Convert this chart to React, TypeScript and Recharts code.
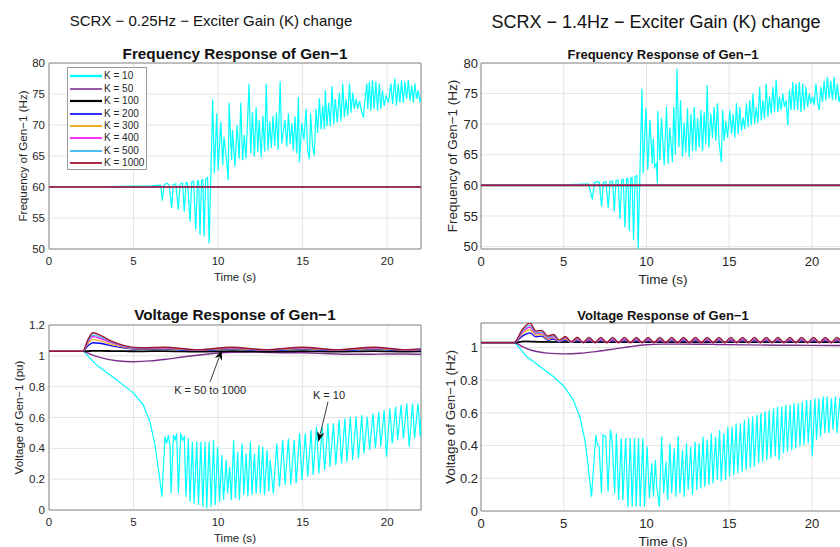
import { LineChart, Line, XAxis, YAxis, CartesianGrid, ReferenceArea, ReferenceLine } from 'recharts'
import type { ReactNode } from 'react'

type Pt = [number, number]
type Row = { t: number; v: number }
type Series = { name: string; color: string; width: number; smooth: boolean; data: Row[] }

const FONT = '"Liberation Sans", Arial, Helvetica, sans-serif'
const INK = '#262626'

const SERIES_NAMES = ['K = 10', 'K = 50', 'K = 100', 'K = 200', 'K = 300', 'K = 400', 'K = 500', 'K = 1000']
const SERIES_COLORS = ['#00ffff', '#7e2f8e', '#000000', '#0000ff', '#edb120', '#ff00ff', '#4dbeee', '#a2142f']

const TIME_TICKS = [0, 5, 10, 15, 20]
const FREQ_TICKS = [50, 55, 60, 65, 70, 75, 80]
const VOLT_TICKS_A = [0, 0.2, 0.4, 0.6, 0.8, 1, 1.2]
const VOLT_TICKS_B = [0, 0.2, 0.4, 0.6, 0.8, 1]

// frequency: every K >= 50 stays on 60 Hz
const FREQ_STEADY: Pt[] = [[0, 60], [22, 60]]

// 0.25 Hz case, K = 10 frequency
const F1_K10: Pt[] = [
  [0, 60], [2, 60], [4, 60.1], [6, 60.2], [6.6, 60.3], [6.7, 57.8], [6.8, 60.3], [6.95, 60.6], [7.1, 60.4],
  [7.26, 56.6], [7.35, 60.4], [7.5, 60.5], [7.65, 56.3], [7.75, 60.5], [7.9, 60.6], [8.0, 56.0], [8.1, 60.7],
  [8.2, 60.6], [8.34, 54.4], [8.44, 60.8], [8.55, 60.9], [8.68, 53.1], [8.78, 61.0], [8.85, 61.0], [8.93, 52.3],
  [9.02, 61.1], [9.1, 61.2], [9.17, 52.0], [9.27, 61.3], [9.38, 61.5], [9.47, 50.9], [9.57, 61.6], [9.68, 74.1],
  [9.78, 62.2], [9.92, 71.9], [10.0, 62.7], [10.16, 70.5], [10.27, 63.5], [10.35, 68.1], [10.5, 64.3], [10.6, 61.1],
  [10.65, 73.6], [10.8, 64.3], [10.85, 69.2], [11.0, 63.3], [11.12, 70.0], [11.25, 64.5], [11.34, 73.6], [11.45, 64.3],
  [11.55, 68.4], [11.65, 64.6], [11.83, 76.6], [11.93, 65.4], [12.03, 72.1], [12.15, 64.9], [12.25, 72.9], [12.35, 65.6],
  [12.43, 70.8], [12.55, 64.8], [12.65, 71.5], [12.75, 65.7], [12.85, 76.6], [12.95, 65.9], [13.05, 70.6], [13.15, 66.3],
  [13.25, 71.5], [13.35, 66.6], [13.45, 72.0], [13.55, 66.0], [13.67, 77.0], [13.76, 67.0], [13.96, 70.8], [14.06, 66.5],
  [14.16, 71.9], [14.26, 67.0], [14.36, 70.3], [14.45, 65.9], [14.55, 71.4], [14.65, 65.4], [14.75, 74.5], [14.81, 64.0],
  [14.95, 70.3], [15.08, 67.6], [15.2, 72.6], [15.3, 65.9], [15.4, 64.5], [15.47, 71.9], [15.59, 66.5], [15.69, 65.1],
  [15.79, 72.6], [15.89, 68.7], [15.99, 74.3], [16.09, 69.3], [16.19, 73.1], [16.29, 69.3], [16.34, 75.6], [16.44, 69.8],
  [16.54, 73.6], [16.64, 69.8], [16.74, 76.3], [16.84, 70.1], [16.93, 74.2], [17.05, 70.4], [17.17, 75.2], [17.27, 70.6],
  [17.37, 76.7], [17.47, 71.2], [17.57, 74.2], [17.67, 71.5], [17.77, 76.7], [17.86, 72.0], [17.96, 75.2], [18.06, 72.6],
  [18.16, 74.2], [18.26, 72.6], [18.36, 73.9], [18.5, 72.0], [18.6, 71.2], [18.7, 74.4], [18.8, 76.7], [18.85, 72.6],
  [18.95, 77.0], [19.03, 72.3], [19.13, 77.2], [19.23, 72.6], [19.33, 77.0], [19.43, 72.3], [19.53, 76.7], [19.62, 72.6],
  [19.72, 75.6], [19.82, 73.1], [19.94, 74.7], [20.08, 73.6], [20.22, 76.7], [20.32, 73.4], [20.45, 77.5], [20.55, 73.1],
  [20.65, 76.7], [20.75, 73.6], [20.85, 77.2], [20.95, 73.6], [21.05, 77.0], [21.15, 74.2], [21.25, 77.2], [21.35, 73.9],
  [21.45, 76.4], [21.55, 73.6], [21.64, 76.7], [21.74, 74.2], [21.84, 75.6], [21.94, 73.6], [22, 74.5],
]

// 1.4 Hz case, K = 10 frequency
const F2_K10: Pt[] = [
  [0, 60], [3, 60.05], [5, 60.1], [6.5, 60.25], [6.73, 57.7], [6.85, 60.4], [7.0, 60.6], [7.15, 60.5], [7.29, 56.5],
  [7.4, 60.5], [7.55, 60.6], [7.69, 56.3], [7.8, 60.6], [7.95, 60.7], [8.06, 55.8], [8.16, 60.8], [8.28, 60.8],
  [8.4, 54.5], [8.5, 60.9], [8.6, 61.0], [8.7, 53.1], [8.8, 61.1], [8.88, 61.1], [8.96, 52.6], [9.05, 61.2],
  [9.13, 61.3], [9.22, 51.1], [9.31, 61.4], [9.42, 61.6], [9.5, 49.6], [9.6, 61.7], [9.73, 75.8], [9.8, 62.0],
  [9.97, 72.6], [10.08, 62.5], [10.21, 70.7], [10.35, 63.5], [10.41, 67.7], [10.5, 63.0], [10.6, 63.5], [10.66, 60.3],
  [10.68, 72.2], [10.81, 64.1], [10.91, 71.0], [11.07, 63.3], [11.21, 72.8], [11.31, 63.5], [11.41, 69.5], [11.57, 63.8],
  [11.65, 72.8], [11.75, 65.0], [11.84, 79.1], [11.96, 66.2], [12.06, 73.9], [12.18, 64.7], [12.28, 70.3], [12.38, 65.3],
  [12.48, 72.6], [12.58, 64.6], [12.69, 71.7], [12.79, 65.6], [12.89, 72.8], [12.99, 65.6], [13.09, 71.0], [13.19, 66.2],
  [13.29, 72.3], [13.39, 65.6], [13.49, 72.0], [13.59, 66.7], [13.67, 76.4], [13.77, 66.2], [13.89, 71.7], [13.99, 67.8],
  [14.09, 72.8], [14.19, 67.3], [14.29, 73.4], [14.39, 67.0], [14.53, 63.8], [14.6, 72.3], [14.7, 67.3], [14.8, 70.5],
  [14.9, 67.8], [15.04, 72.3], [15.14, 68.4], [15.24, 71.7], [15.34, 67.8], [15.44, 73.4], [15.54, 68.4], [15.64, 72.8],
  [15.74, 68.9], [15.84, 71.1], [15.94, 69.2], [16.04, 73.4], [16.14, 69.5], [16.24, 73.9], [16.34, 69.8], [16.44, 75.0],
  [16.54, 70.1], [16.64, 72.8], [16.74, 70.3], [16.84, 76.1], [16.94, 70.6], [17.04, 73.9], [17.14, 70.9], [17.24, 76.6],
  [17.34, 71.2], [17.44, 74.5], [17.54, 71.7], [17.64, 76.1], [17.74, 72.0], [17.84, 77.3], [17.94, 72.0], [18.04, 74.5],
  [18.14, 72.3], [18.24, 75.0], [18.34, 72.8], [18.44, 73.9], [18.54, 69.8], [18.64, 75.6], [18.74, 72.3], [18.84, 76.9],
  [18.94, 72.3], [19.04, 76.6], [19.14, 72.3], [19.24, 76.9], [19.34, 72.0], [19.44, 76.6], [19.54, 72.3], [19.64, 76.1],
  [19.74, 72.8], [19.84, 75.0], [19.94, 73.4], [20.04, 74.5], [20.14, 73.1], [20.24, 76.6], [20.34, 73.6], [20.44, 72.3],
  [20.54, 76.1], [20.64, 73.6], [20.74, 77.1], [20.84, 73.9], [20.94, 77.7], [21.04, 74.2], [21.14, 77.1], [21.24, 73.9],
  [21.34, 77.7], [21.44, 73.9], [21.54, 76.6], [21.64, 73.6], [21.8, 76.0], [22, 74.0],
]

// 0.25 Hz case, voltage
const V1_K10: Pt[] = [
  [0, 1.03], [2.03, 1.034], [2.33, 0.995], [2.82, 0.94], [3.61, 0.876], [4.4, 0.81], [4.99, 0.76], [5.58, 0.68],
  [5.98, 0.57], [6.27, 0.42], [6.53, 0.218], [6.68, 0.086], [6.86, 0.475], [6.96, 0.432], [7.06, 0.486], [7.16, 0.41],
  [7.22, 0.108], [7.36, 0.486], [7.46, 0.454], [7.55, 0.497], [7.65, 0.108], [7.79, 0.497], [7.89, 0.454], [8.0, 0.475],
  [8.1, 0.086], [8.24, 0.464], [8.34, 0.054], [8.48, 0.443], [8.58, 0.043], [8.74, 0.443], [8.84, 0.032], [8.98, 0.443],
  [9.1, 0.022], [9.23, 0.443], [9.33, 0.011], [9.47, 0.443], [9.59, 0.022], [9.73, 0.454], [9.83, 0.032], [9.97, 0.41],
  [10.09, 0.054], [10.22, 0.357], [10.32, 0.065], [10.48, 0.324], [10.56, 0.108], [10.68, 0.281], [10.78, 0.065], [10.92, 0.454],
  [11.02, 0.076], [11.16, 0.378], [11.26, 0.065], [11.42, 0.432], [11.52, 0.097], [11.66, 0.367], [11.76, 0.086], [11.91, 0.443],
  [12.01, 0.097], [12.15, 0.367], [12.25, 0.108], [12.41, 0.421], [12.5, 0.108], [12.64, 0.41], [12.74, 0.097], [12.9, 0.389],
  [13.0, 0.119], [13.08, 0.324], [13.27, 0.108], [13.47, 0.432], [13.63, 0.151], [13.82, 0.454], [13.96, 0.162], [14.16, 0.464],
  [14.3, 0.162], [14.5, 0.454], [14.62, 0.173], [14.82, 0.497], [14.96, 0.194], [15.16, 0.497], [15.3, 0.216], [15.5, 0.518],
  [15.62, 0.227], [15.82, 0.54], [15.96, 0.238], [16.16, 0.54], [16.3, 0.259], [16.5, 0.562], [16.62, 0.281], [16.82, 0.562],
  [16.96, 0.292], [17.16, 0.584], [17.3, 0.302], [17.5, 0.594], [17.62, 0.313], [17.82, 0.605], [17.96, 0.324], [18.16, 0.605],
  [18.3, 0.335], [18.5, 0.616], [18.62, 0.367], [18.82, 0.605], [18.96, 0.389], [19.16, 0.627], [19.3, 0.4], [19.5, 0.637],
  [19.62, 0.41], [19.82, 0.648], [19.96, 0.346], [20.16, 0.659], [20.3, 0.432], [20.5, 0.67], [20.62, 0.454], [20.82, 0.681],
  [20.96, 0.464], [21.16, 0.691], [21.3, 0.41], [21.5, 0.691], [21.62, 0.464], [21.82, 0.691], [21.96, 0.475], [22, 0.6],
]
const V1_K50: Pt[] = [
  [0, 1.03], [2, 1.03], [2.5, 1.008], [3, 0.99], [4, 0.968], [5, 0.962], [6, 0.967], [7, 0.979], [8, 0.994],
  [9, 1.007], [10, 1.018], [11, 1.023], [12, 1.024], [13, 1.022], [14, 1.02], [15, 1.02], [16, 1.016], [17, 1.012],
  [18, 1.01], [19, 1.01], [20, 1.012], [21, 1.012], [22, 1.01],
]
const V1_T = [0, 2, 2.3, 2.6, 3.1, 3.7, 4.5, 5.4, 6.8, 8.8, 10.8, 12.8, 15, 17, 19.2, 21.1, 22]
const V1_K100 = [1.03, 1.03, 1.031, 1.032, 1.032, 1.031, 1.03, 1.029, 1.031, 1.028, 1.031, 1.028, 1.031, 1.028, 1.031, 1.028, 1.029]
const V1_K200 = [1.03, 1.03, 1.065, 1.085, 1.08, 1.065, 1.05, 1.042, 1.043, 1.035, 1.043, 1.035, 1.043, 1.035, 1.043, 1.035, 1.038]
const V1_K300 = [1.03, 1.03, 1.08, 1.105, 1.095, 1.075, 1.055, 1.045, 1.047, 1.037, 1.047, 1.037, 1.047, 1.037, 1.047, 1.037, 1.04]
const V1_K400 = [1.03, 1.03, 1.09, 1.125, 1.11, 1.085, 1.06, 1.048, 1.051, 1.038, 1.051, 1.038, 1.051, 1.038, 1.051, 1.038, 1.042]
const V1_K500 = [1.03, 1.03, 1.095, 1.135, 1.12, 1.09, 1.062, 1.05, 1.053, 1.039, 1.053, 1.039, 1.053, 1.039, 1.053, 1.039, 1.043]
const V1_K1000 = [1.03, 1.03, 1.105, 1.15, 1.13, 1.095, 1.065, 1.052, 1.056, 1.04, 1.056, 1.04, 1.056, 1.04, 1.056, 1.04, 1.045]

// 1.4 Hz case, voltage
const V2_K10: Pt[] = [
  [0, 1.03], [2.05, 1.03], [2.76, 0.945], [3.56, 0.884], [4.37, 0.823], [5.03, 0.761], [5.57, 0.68], [5.97, 0.577],
  [6.28, 0.435], [6.48, 0.271], [6.68, 0.088], [6.94, 0.465], [7.04, 0.404], [7.14, 0.394], [7.28, 0.108], [7.38, 0.465],
  [7.54, 0.455], [7.68, 0.118], [7.82, 0.496], [7.92, 0.435], [8.08, 0.108], [8.18, 0.476], [8.32, 0.067], [8.48, 0.445],
  [8.58, 0.067], [8.74, 0.445], [8.88, 0.026], [9.02, 0.445], [9.14, 0.026], [9.28, 0.445], [9.38, 0.026], [9.52, 0.445],
  [9.62, 0.026], [9.78, 0.445], [9.88, 0.026], [10.04, 0.394], [10.18, 0.077], [10.32, 0.292], [10.42, 0.087], [10.54, 0.312],
  [10.62, 0.149], [10.78, 0.026], [10.92, 0.455], [11.04, 0.108], [11.18, 0.302], [11.28, 0.067], [11.42, 0.414], [11.52, 0.108],
  [11.68, 0.384], [11.78, 0.087], [11.92, 0.455], [12.02, 0.108], [12.18, 0.373], [12.28, 0.087], [12.42, 0.414], [12.52, 0.128],
  [12.68, 0.394], [12.78, 0.098], [12.94, 0.424], [13.04, 0.128], [13.18, 0.414], [13.28, 0.139], [13.42, 0.455], [13.52, 0.149],
  [13.68, 0.435], [13.78, 0.159], [13.92, 0.476], [14.02, 0.169], [14.18, 0.455], [14.28, 0.19], [14.42, 0.496], [14.52, 0.18],
  [14.68, 0.476], [14.78, 0.19], [14.92, 0.516], [15.02, 0.21], [15.18, 0.516], [15.28, 0.22], [15.42, 0.537], [15.52, 0.231],
  [15.68, 0.537], [15.78, 0.241], [15.92, 0.557], [16.02, 0.251], [16.18, 0.567], [16.28, 0.261], [16.42, 0.578], [16.52, 0.271],
  [16.68, 0.588], [16.78, 0.292], [16.92, 0.598], [17.02, 0.302], [17.18, 0.608], [17.28, 0.312], [17.42, 0.618], [17.52, 0.322],
  [17.68, 0.629], [17.78, 0.333], [17.92, 0.639], [18.02, 0.312], [18.18, 0.639], [18.28, 0.353], [18.42, 0.649], [18.52, 0.363],
  [18.68, 0.649], [18.78, 0.373], [18.92, 0.659], [19.02, 0.384], [19.18, 0.659], [19.28, 0.394], [19.42, 0.669], [19.52, 0.404],
  [19.68, 0.68], [19.78, 0.414], [19.92, 0.68], [20.02, 0.333], [20.18, 0.69], [20.28, 0.435], [20.42, 0.69], [20.52, 0.455],
  [20.68, 0.7], [20.78, 0.476], [20.92, 0.7], [21.02, 0.476], [21.18, 0.69], [21.28, 0.496], [21.42, 0.7], [21.52, 0.476],
  [21.68, 0.69], [21.8, 0.48], [22, 0.62],
]
const V2_K50: Pt[] = [
  [0, 1.03], [2, 1.03], [2.5, 1.005], [3, 0.985], [4, 0.966], [5, 0.961], [6, 0.965], [7, 0.976], [8, 0.99],
  [9, 1.005], [10, 1.017], [11, 1.021], [12, 1.021], [14, 1.019], [16, 1.016], [18, 1.014], [20, 1.013], [22, 1.012],
]
const V2_K100: Pt[] = [[0, 1.03], [2, 1.03], [2.6, 1.037], [3.5, 1.035], [6, 1.033], [22, 1.033]]
// peaks and troughs of the 1.4 Hz ripple
const V2_T = [
  0, 2, 2.5,
  2.96, 3.32, 3.67, 4.03, 4.39, 4.74, 5.1, 5.46, 5.82, 6.17,
  6.53, 6.89, 7.24, 7.6, 7.96, 8.31, 8.67, 9.03, 9.39, 9.74,
  10.1, 10.46, 10.81, 11.17, 11.53, 11.88, 12.24, 12.6, 12.96, 13.31,
  13.67, 14.03, 14.38, 14.74, 15.1, 15.45, 15.81, 16.17, 16.53, 16.88,
  17.24, 17.6, 17.95, 18.31, 18.67, 19.03, 19.38, 19.74, 20.1, 20.45,
  20.81, 21.17, 21.52, 21.88, 22,
]
const V2_K200 = [
  1.03, 1.03, 1.07,
  1.09, 1.065, 1.07, 1.045, 1.052, 1.035, 1.046, 1.031, 1.043, 1.03,
  1.042, 1.03, 1.042, 1.03, 1.042, 1.03, 1.042, 1.03, 1.042, 1.03,
  1.042, 1.03, 1.042, 1.03, 1.042, 1.03, 1.042, 1.03, 1.042, 1.03,
  1.042, 1.03, 1.042, 1.03, 1.042, 1.03, 1.042, 1.03, 1.042, 1.03,
  1.042, 1.03, 1.042, 1.03, 1.042, 1.03, 1.042, 1.03, 1.042, 1.03,
  1.042, 1.03, 1.042, 1.03, 1.035,
]
const V2_K300 = [
  1.03, 1.03, 1.085,
  1.11, 1.075, 1.08, 1.052, 1.06, 1.036, 1.052, 1.031, 1.049, 1.03,
  1.048, 1.03, 1.048, 1.03, 1.048, 1.03, 1.048, 1.03, 1.048, 1.03,
  1.048, 1.03, 1.048, 1.03, 1.048, 1.03, 1.048, 1.03, 1.048, 1.03,
  1.048, 1.03, 1.048, 1.03, 1.048, 1.03, 1.048, 1.03, 1.048, 1.03,
  1.048, 1.03, 1.048, 1.03, 1.048, 1.03, 1.048, 1.03, 1.048, 1.03,
  1.048, 1.03, 1.048, 1.03, 1.038,
]
const V2_K400 = [
  1.03, 1.03, 1.095,
  1.125, 1.085, 1.09, 1.058, 1.067, 1.038, 1.058, 1.032, 1.054, 1.03,
  1.053, 1.03, 1.053, 1.03, 1.053, 1.03, 1.053, 1.03, 1.053, 1.03,
  1.053, 1.03, 1.053, 1.03, 1.053, 1.03, 1.053, 1.03, 1.053, 1.03,
  1.053, 1.03, 1.053, 1.03, 1.053, 1.03, 1.053, 1.03, 1.053, 1.03,
  1.053, 1.03, 1.053, 1.03, 1.053, 1.03, 1.053, 1.03, 1.053, 1.03,
  1.053, 1.03, 1.053, 1.03, 1.04,
]
const V2_K500 = [
  1.03, 1.03, 1.1,
  1.135, 1.09, 1.095, 1.062, 1.072, 1.04, 1.062, 1.032, 1.058, 1.03,
  1.057, 1.03, 1.057, 1.03, 1.057, 1.03, 1.057, 1.03, 1.057, 1.03,
  1.057, 1.03, 1.057, 1.03, 1.057, 1.03, 1.057, 1.03, 1.057, 1.03,
  1.057, 1.03, 1.057, 1.03, 1.057, 1.03, 1.057, 1.03, 1.057, 1.03,
  1.057, 1.03, 1.057, 1.03, 1.057, 1.03, 1.057, 1.03, 1.057, 1.03,
  1.057, 1.03, 1.057, 1.03, 1.042,
]
const V2_K1000 = [
  1.03, 1.03, 1.11,
  1.15, 1.1, 1.105, 1.07, 1.08, 1.045, 1.067, 1.035, 1.063, 1.03,
  1.062, 1.03, 1.062, 1.03, 1.062, 1.03, 1.062, 1.03, 1.062, 1.03,
  1.062, 1.03, 1.062, 1.03, 1.062, 1.03, 1.062, 1.03, 1.062, 1.03,
  1.062, 1.03, 1.062, 1.03, 1.062, 1.03, 1.062, 1.03, 1.062, 1.03,
  1.062, 1.03, 1.062, 1.03, 1.062, 1.03, 1.062, 1.03, 1.062, 1.03,
  1.062, 1.03, 1.062, 1.03, 1.045,
]

// annotation arrows on the 0.25 Hz voltage plot: [tail, head]
const ARROW_K50_1000: Pt[] = [[9.53, 0.832], [10.22, 1.038]]
const ARROW_K10: Pt[] = [[16.5, 0.702], [15.93, 0.443]]

const rows = (pts: Pt[]): Row[] => pts.map(([t, v]) => ({ t, v }))
const zipRows = (ts: number[], vs: number[]): Row[] => ts.map((t, i) => ({ t, v: vs[i] }))

const LINE_W = [1.2, 1.4, 1.8, 1.3, 1.3, 1.3, 1.3, 1.4]
const LEGEND_W = [2.4, 1.6, 2.2, 1.6, 2, 1.6, 2, 1.8]

function makeSeries(data: Row[][], smoothFrom = 99): Series[] {
  return data.map((d, i) => ({
    name: SERIES_NAMES[i], color: SERIES_COLORS[i], width: LINE_W[i], smooth: i >= smoothFrom, data: d,
  }))
}

const freqLeft = makeSeries([rows(F1_K10), ...Array.from({ length: 7 }, () => rows(FREQ_STEADY))])
const freqRight = makeSeries([rows(F2_K10), ...Array.from({ length: 7 }, () => rows(FREQ_STEADY))])
const voltLeft = makeSeries([
  rows(V1_K10), rows(V1_K50), zipRows(V1_T, V1_K100), zipRows(V1_T, V1_K200),
  zipRows(V1_T, V1_K300), zipRows(V1_T, V1_K400), zipRows(V1_T, V1_K500), zipRows(V1_T, V1_K1000),
], 1)
const voltRight = makeSeries([
  rows(V2_K10), rows(V2_K50), rows(V2_K100), zipRows(V2_T, V2_K200),
  zipRows(V2_T, V2_K300), zipRows(V2_T, V2_K400), zipRows(V2_T, V2_K500), zipRows(V2_T, V2_K1000),
], 1)

function arrowShape(text: string, dx: number, dy: number) {
  return (p: any) => {
    const { x1, y1, x2, y2 } = p
    if (x1 == null) return <g />
    const a = Math.atan2(y2 - y1, x2 - x1)
    const L = 10
    const W = 3.8
    const bx = x2 - L * Math.cos(a)
    const by = y2 - L * Math.sin(a)
    const pts = `${x2},${y2} ${bx + W * Math.sin(a)},${by - W * Math.cos(a)} ${bx + 3 * Math.cos(a)},${by + 3 * Math.sin(a)} ${bx - W * Math.sin(a)},${by + W * Math.cos(a)}`
    return (
      <g>
        <line x1={x1} y1={y1} x2={bx + 2 * Math.cos(a)} y2={by + 2 * Math.sin(a)} stroke={INK} strokeWidth={0.9} />
        <polygon points={pts} fill="#000" />
        <text x={x1 + dx} y={y1 + dy} textAnchor="middle" dominantBaseline="central" fontSize={11} fontFamily={FONT} fill={INK}>
          {text}
        </text>
      </g>
    )
  }
}

interface PanelProps {
  left: number
  top: number
  width: number
  height: number
  plotLeft: number
  plotTop: number
  plotW: number
  plotH: number
  yDomain: [number, number]
  yTicks: number[]
  tickFont: number
  xTickGap: number
  yTickGap: number
  labelFont: number
  yLabel: string
  yLabelX: number
  xLabelY: number
  series: Series[]
  children?: ReactNode
}

function Panel(p: PanelProps) {
  const bottom = p.height - p.plotTop - p.plotH - 30
  const tick = { fontSize: p.tickFont, fill: INK, fontFamily: FONT }
  return (
    <div style={{ position: 'absolute', left: p.left, top: p.top }}>
      <LineChart
        width={p.width}
        height={p.height}
        margin={{ top: p.plotTop, left: 0, right: p.width - p.plotLeft - p.plotW, bottom }}
      >
        <CartesianGrid stroke="#e4e4e4" strokeWidth={1} />
        <XAxis
          type="number"
          dataKey="t"
          domain={[0, 22]}
          ticks={TIME_TICKS}
          allowDataOverflow
          axisLine={false}
          tickLine={false}
          tickSize={0}
          tickMargin={p.xTickGap}
          height={30}
          tick={tick}
          label={(lp: any) => {
            const vb = lp.viewBox
            return (
              <text x={vb.x + vb.width / 2} y={p.xLabelY} textAnchor="middle" dominantBaseline="central"
                fontSize={p.labelFont} fontFamily={FONT} fill={INK}>Time (s)</text>
            )
          }}
        />
        <YAxis
          type="number"
          domain={p.yDomain}
          ticks={p.yTicks}
          allowDataOverflow
          axisLine={false}
          tickLine={false}
          tickSize={0}
          tickMargin={p.yTickGap}
          width={p.plotLeft}
          tick={tick}
          label={(lp: any) => {
            const vb = lp.viewBox
            const cy = vb.y + vb.height / 2
            return (
              <text x={p.yLabelX} y={cy} transform={`rotate(-90, ${p.yLabelX}, ${cy})`} textAnchor="middle"
                dominantBaseline="central" fontSize={p.labelFont} fontFamily={FONT} fill={INK}>{p.yLabel}</text>
            )
          }}
        />
        {p.series.map(s => (
          <Line
            key={s.name}
            data={s.data}
            dataKey="v"
            name={s.name}
            type={s.smooth ? 'monotone' : 'linear'}
            stroke={s.color}
            strokeWidth={s.width}
            dot={false}
            activeDot={false}
            isAnimationActive={false}
          />
        ))}
        <ReferenceArea x1={0} x2={22} y1={p.yDomain[0]} y2={p.yDomain[1]} fill="none" fillOpacity={0}
          stroke="#8a8a8a" strokeWidth={1} ifOverflow="visible" />
        {p.children}
      </LineChart>
    </div>
  )
}

function Title({ text, cx, cy, size, bold }: { text: string; cx: number; cy: number; size: number; bold?: boolean }) {
  return (
    <div style={{
      position: 'absolute', left: cx - 250, width: 500, top: cy - size / 2, lineHeight: `${size}px`,
      textAlign: 'center', fontSize: size, fontWeight: bold ? 700 : 400, fontFamily: FONT, color: '#111',
      whiteSpace: 'nowrap',
    }}>{text}</div>
  )
}

export default function App() {
  return (
    <div style={{ position: 'absolute', left: 0, top: 0, width: 840, height: 547, overflow: 'hidden', background: '#fff' }}>
      <Title text="SCRX − 0.25Hz − Exciter Gain (K) change" cx={211} cy={20} size={15} />
      <Title text="SCRX − 1.4Hz − Exciter Gain (K) change" cx={656} cy={22} size={18} />

      <Panel left={0} top={0} width={425} height={300} plotLeft={49} plotTop={63} plotW={372} plotH={186}
        yDomain={[50, 80]} yTicks={FREQ_TICKS} tickFont={11.5} xTickGap={8} yTickGap={4} labelFont={11.6}
        yLabel="Frequency of Gen−1 (Hz)" yLabelX={22} xLabelY={276} series={freqLeft} />
      <Panel left={420} top={0} width={430} height={300} plotLeft={61} plotTop={63} plotW={364} plotH={186}
        yDomain={[49.6, 80]} yTicks={FREQ_TICKS} tickFont={13} xTickGap={8} yTickGap={3} labelFont={13.5}
        yLabel="Frequency of Gen−1 (Hz)" yLabelX={32} xLabelY={279} series={freqRight} />

      <Panel left={0} top={290} width={425} height={257} plotLeft={49} plotTop={35} plotW={372} plotH={185}
        yDomain={[0, 1.2]} yTicks={VOLT_TICKS_A} tickFont={11.5} xTickGap={8} yTickGap={4} labelFont={11.6}
        yLabel="Voltage of Gen−1 (pu)" yLabelX={18} xLabelY={247} series={voltLeft}>
        <ReferenceLine
          segment={ARROW_K50_1000.map(([x, y]) => ({ x, y }))}
          ifOverflow="visible"
          shape={arrowShape('K = 50 to 1000', 0, 8)}
        />
        <ReferenceLine
          segment={ARROW_K10.map(([x, y]) => ({ x, y }))}
          ifOverflow="visible"
          shape={arrowShape('K = 10', 1, -7)}
        />
      </Panel>
      <Panel left={420} top={290} width={430} height={257} plotLeft={61} plotTop={33} plotW={364} plotH={188}
        yDomain={[0, 1.15]} yTicks={VOLT_TICKS_B} tickFont={13} xTickGap={8} yTickGap={3} labelFont={13.5}
        yLabel="Voltage of Gen−1 (Hz)" yLabelX={30} xLabelY={251} series={voltRight} />

      <Title text="Frequency Response of Gen−1" cx={235} cy={54} size={15.3} bold />
      <Title text="Frequency Response of Gen−1" cx={663} cy={54} size={13} bold />
      <Title text="Voltage Response of Gen−1" cx={235} cy={315} size={15.3} bold />
      <Title text="Voltage Response of Gen−1" cx={663} cy={315} size={13} bold />

      <div style={{
        position: 'absolute', left: 67, top: 67, width: 80, height: 103, boxSizing: 'border-box',
        border: '1px solid #9a9a9a', background: '#fff', paddingTop: 2, paddingLeft: 2, fontFamily: FONT,
      }}>
        {SERIES_NAMES.map((n, i) => (
          <div key={n} style={{ display: 'flex', alignItems: 'center', height: 12.45 }}>
            <svg width={32} height={6} style={{ display: 'block' }}>
              <line x1={0} y1={3} x2={32} y2={3} stroke={SERIES_COLORS[i]} strokeWidth={LEGEND_W[i]} />
            </svg>
            <span style={{ marginLeft: 2, fontSize: 10, color: INK, lineHeight: '12px', whiteSpace: 'nowrap' }}>{n}</span>
          </div>
        ))}
      </div>
    </div>
  )
}
